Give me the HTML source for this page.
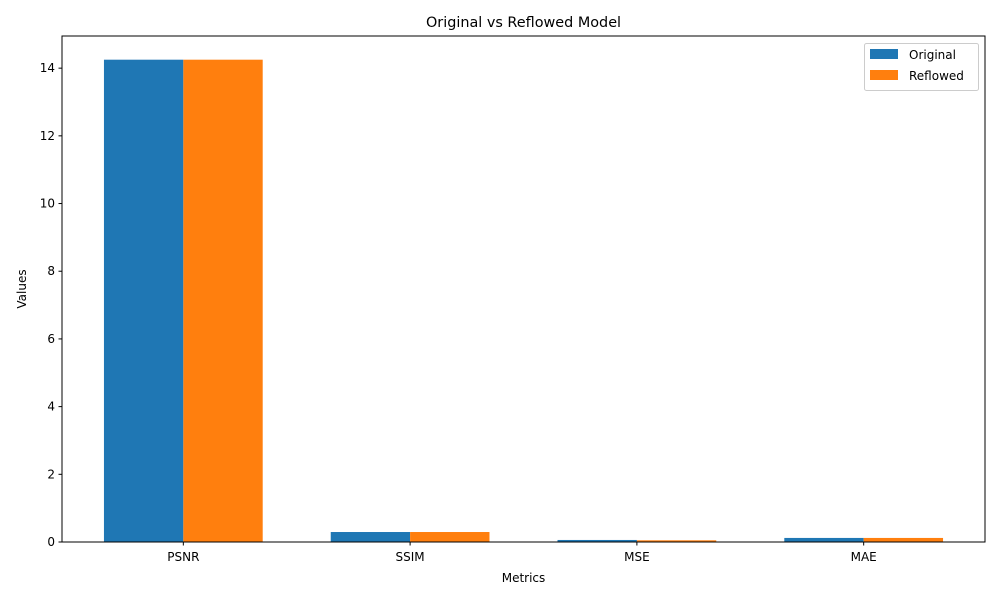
<!DOCTYPE html>
<html><head><meta charset="utf-8"><style>
body{margin:0;background:#fff;font-family:"Liberation Sans","DejaVu Sans",sans-serif;}
</style></head><body>
<svg id="chart" width="1000" height="600" font-family="'DejaVu Sans','Liberation Sans',sans-serif">
</svg>
<script>
const categories=["PSNR","SSIM","MSE","MAE"];
const originalValues=[14.25,0.295,0.06,0.12];
const reflowedValues=[14.25,0.295,0.05,0.12];
const yTicks=[0,2,4,6,8,10,12,14];
const seriesNames=["Original","Reflowed"];

const NS="http://www.w3.org/2000/svg";
const svg=document.getElementById('chart');
const L=62,R=985,T=36,B=542;
const xmin=-0.535,xmax=3.535,ymax=14.95;
const xs=v=>L+(v-xmin)/(xmax-xmin)*(R-L);
const ys=v=>B-v/ymax*(B-T);
function mk(tag,attrs,txt){const e=document.createElementNS(NS,tag);for(const k in attrs)e.setAttribute(k,attrs[k]);if(txt!==undefined)e.textContent=txt;svg.appendChild(e);return e;}
const colors=["#1f77b4","#ff7f0e"];
const w=0.35;
[originalValues,reflowedValues].forEach((vals,s)=>{
  vals.forEach((v,i)=>{
    const x0=xs(i+(s===0?-w:0)),x1=xs(i+(s===0?0:w));
    const r=mk('rect',{x:x0,y:ys(v),width:x1-x0,height:B-ys(v),fill:colors[s]});
    
    
  });
});
mk('rect',{x:L,y:T,width:R-L,height:B-T,fill:'none',stroke:'#000','stroke-width':1,});
yTicks.forEach(t=>{
  const y=ys(t);
  mk('line',{x1:L-3.5,x2:L,y1:y,y2:y,stroke:'#000'});
  const tx=mk('text',{x:L-7,y:y+4,'font-size':12,'text-anchor':'end'},t);
  
  
});
categories.forEach((c,i)=>{
  const x=xs(i);
  mk('line',{x1:x,x2:x,y1:B,y2:B+3.5,stroke:'#000'});
  const tx=mk('text',{x:x,y:B+19,'font-size':12,'text-anchor':'middle'},c);
  
  
});
mk('text',{x:(L+R)/2,y:582,'font-size':12,'text-anchor':'middle',},'Metrics');
mk('text',{x:26,y:(T+B)/2,'font-size':12,'text-anchor':'middle',transform:`rotate(-90 26 ${(T+B)/2})`,},'Values');
mk('text',{x:(L+R)/2,y:27,'font-size':14.4,'text-anchor':'middle',},'Original vs Reflowed Model');
mk('rect',{x:864.5,y:43.5,width:114,height:47,rx:2,fill:'#fff',stroke:'#ccc',});
seriesNames.forEach((n,s)=>{
  const y=49+s*21;
  mk('rect',{x:870,y:y,width:28,height:10,fill:colors[s],});
  mk('text',{x:909,y:y+10,'font-size':12,},n);
});
</script>
</body></html>
